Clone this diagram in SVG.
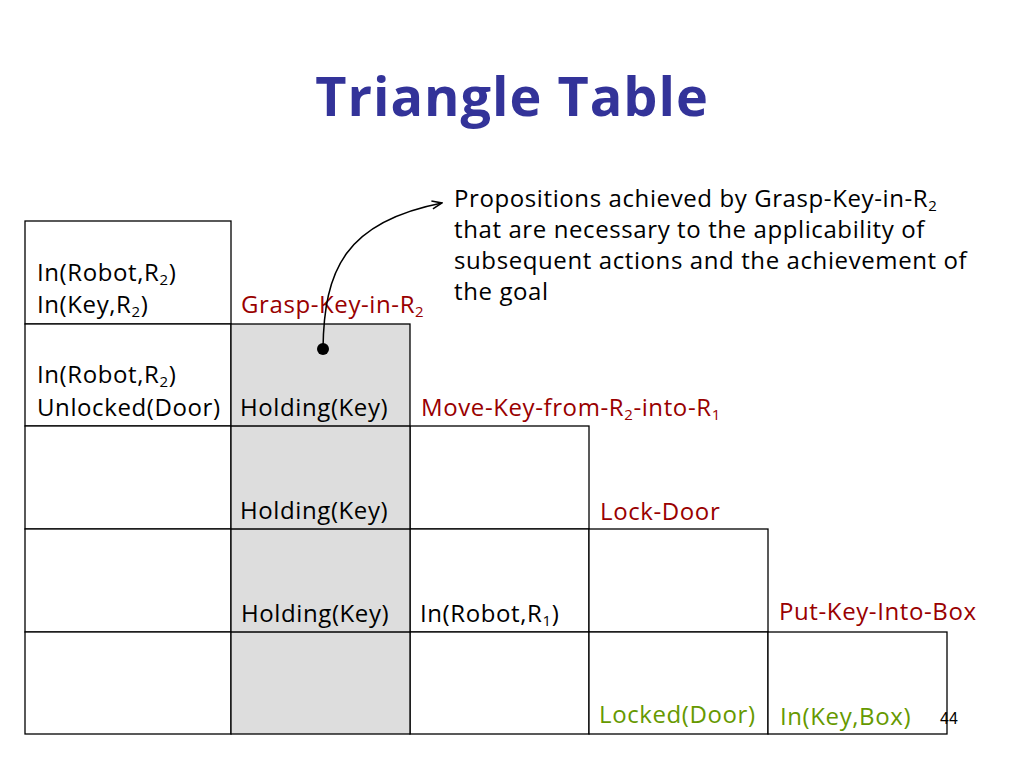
<svg xmlns="http://www.w3.org/2000/svg" width="1024" height="768" viewBox="0 0 1024 768">
<style>
.t{font-family:"Open Sans","Noto Sans",sans-serif;font-size:24px;letter-spacing:0.6px;fill:#000}
.s{font-size:15px}
.r{fill:#990000}
.g{fill:#669900}
.c{fill:#fff;stroke:#000;stroke-width:1.3}
</style>
<defs>
<marker id="ah" markerWidth="12" markerHeight="10" refX="11" refY="5" orient="auto" markerUnits="userSpaceOnUse">
<path d="M1,1 L11,5 L1,9" fill="none" stroke="#000" stroke-width="1.5"/>
</marker>
</defs>
<rect width="1024" height="768" fill="#fff"/>
<text x="512" y="116" text-anchor="middle" font-family="Open Sans,sans-serif" font-weight="bold" font-size="54" letter-spacing="1" fill="#333399">Triangle Table</text>
<g id="table">
<rect class="c" x="25" y="221" width="206" height="103"/>
<rect class="c" x="25" y="324" width="206" height="102"/>
<rect class="c" x="25" y="426" width="206" height="103"/>
<rect class="c" x="410" y="426" width="179" height="103"/>
<rect class="c" x="25" y="529" width="206" height="103"/>
<rect class="c" x="410" y="529" width="179" height="103"/>
<rect class="c" x="589" y="529" width="179" height="103"/>
<rect class="c" x="25" y="632" width="206" height="102"/>
<rect class="c" x="410" y="632" width="179" height="102"/>
<rect class="c" x="589" y="632" width="179" height="102"/>
<rect class="c" x="768" y="632" width="179" height="102"/>
<rect class="c" x="231" y="324" width="179" height="410" style="fill:#dddddd"/>
<line x1="231" y1="426" x2="410" y2="426" stroke="#000" stroke-width="1.3"/>
<line x1="231" y1="529" x2="410" y2="529" stroke="#000" stroke-width="1.3"/>
<line x1="231" y1="632" x2="410" y2="632" stroke="#000" stroke-width="1.3"/>
</g>
<g id="row1">
<text class="t" x="37" y="281">In(Robot,R<tspan class="s" dy="4">2</tspan><tspan dy="-4">)</tspan></text>
<text class="t" x="37" y="313">In(Key,R<tspan class="s" dy="4">2</tspan><tspan dy="-4">)</tspan></text>
<text class="t r" x="241" y="313">Grasp-Key-in-R<tspan class="s" dy="4">2</tspan></text>
</g>
<g id="row2">
<text class="t" x="37" y="383">In(Robot,R<tspan class="s" dy="4">2</tspan><tspan dy="-4">)</tspan></text>
<text class="t" x="37" y="416">Unlocked(Door)</text>
<text class="t" x="240" y="416">Holding(Key)</text>
<text class="t r" x="421" y="416">Move-Key-from-R<tspan class="s" dy="4">2</tspan><tspan dy="-4">-into-R</tspan><tspan class="s" dy="4">1</tspan></text>
</g>
<g id="row3">
<text class="t" x="240" y="519">Holding(Key)</text>
<text class="t r" x="600" y="520">Lock-Door</text>
</g>
<g id="row4">
<text class="t" x="241" y="622">Holding(Key)</text>
<text class="t" x="420" y="622">In(Robot,R<tspan class="s" dy="4">1</tspan><tspan dy="-4">)</tspan></text>
<text class="t r" x="779" y="620">Put-Key-Into-Box</text>
</g>
<g id="row5">
<text class="t g" x="599" y="723">Locked(Door)</text>
<text class="t g" x="780" y="725">In(Key,Box)</text>
</g>
<g id="note">
<text class="t" x="454" y="207">Propositions achieved by Grasp-Key-in-R<tspan class="s" dy="4">2</tspan></text>
<text class="t" x="454" y="238">that are necessary to the applicability of</text>
<text class="t" x="454" y="269">subsequent actions and the achievement of</text>
<text class="t" x="454" y="300">the goal</text>
</g>
<g id="connectors">
<path d="M323,349 C324,270 345,222 442,203" fill="none" stroke="#000" stroke-width="1.5" marker-end="url(#ah)"/>
<circle cx="323" cy="349" r="6" fill="#000"/>
</g>
<text x="940" y="724" font-family="Liberation Sans,sans-serif" font-size="16" fill="#000">44</text>
</svg>
